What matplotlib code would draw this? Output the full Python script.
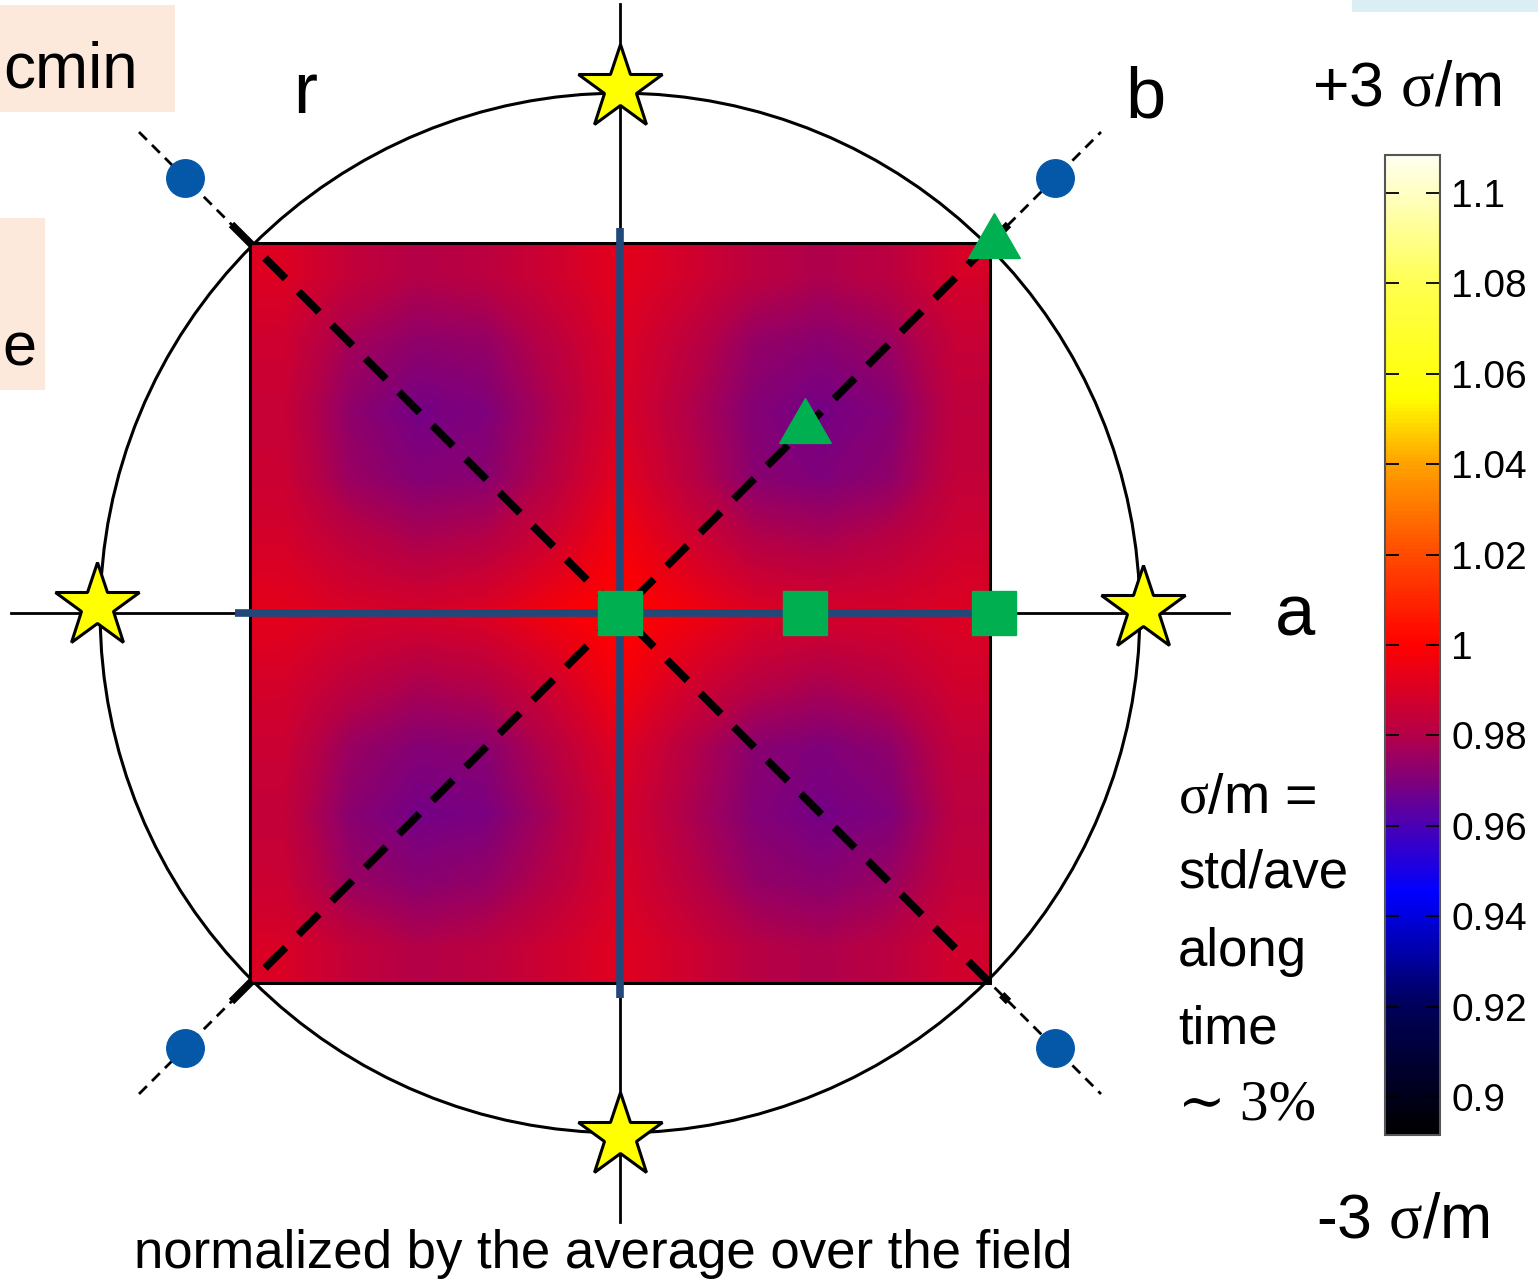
import numpy as np
import matplotlib
matplotlib.use('Agg')
import matplotlib.pyplot as plt
from matplotlib.colors import LinearSegmentedColormap, Normalize
from matplotlib.cm import ScalarMappable
from matplotlib.patches import Rectangle, Circle

plt.rcParams['font.family'] = ['Liberation Sans', 'DejaVu Sans']
plt.rcParams['mathtext.fontset'] = 'custom'
plt.rcParams['mathtext.it'] = 'Liberation Serif'
plt.rcParams['mathtext.rm'] = 'Liberation Serif'

W, H = 1538, 1282

# normalized field (rows top -> bottom, columns left -> right), square spans [-1, 1]
field = np.array([
    [0.991, 0.984, 0.980, 0.982, 0.987, 0.993, 0.988, 0.982, 0.979, 0.982, 0.989],
    [0.987, 0.977, 0.973, 0.974, 0.982, 0.991, 0.983, 0.974, 0.972, 0.975, 0.985],
    [0.985, 0.973, 0.968, 0.970, 0.979, 0.990, 0.980, 0.971, 0.968, 0.971, 0.983],
    [0.986, 0.975, 0.971, 0.972, 0.981, 0.993, 0.982, 0.972, 0.970, 0.973, 0.984],
    [0.989, 0.983, 0.979, 0.981, 0.988, 0.998, 0.989, 0.981, 0.979, 0.982, 0.987],
    [0.993, 0.990, 0.989, 0.991, 0.997, 1.001, 0.997, 0.991, 0.989, 0.989, 0.991],
    [0.989, 0.983, 0.979, 0.981, 0.988, 0.998, 0.989, 0.982, 0.979, 0.982, 0.988],
    [0.986, 0.975, 0.971, 0.972, 0.981, 0.992, 0.981, 0.972, 0.970, 0.973, 0.984],
    [0.984, 0.972, 0.968, 0.969, 0.978, 0.989, 0.979, 0.971, 0.968, 0.970, 0.982],
    [0.986, 0.975, 0.972, 0.974, 0.981, 0.990, 0.982, 0.974, 0.972, 0.975, 0.984],
    [0.990, 0.984, 0.980, 0.982, 0.987, 0.992, 0.987, 0.981, 0.979, 0.982, 0.988],
])

# colour scale (+/- 3 sigma/m around 1)
vmin, vmax = 0.8916, 1.1084
cmap_vals = [0.8916, 0.92, 0.945, 0.96, 0.97, 0.98, 1.0, 1.02, 1.04, 1.055, 1.08, 1.1084]
cmap_cols = ['#000000', '#00005a', '#0000ff', '#4a00b4', '#80007a', '#b40048',
             '#ff0000', '#ff4a00', '#ffa000', '#ffff00', '#ffff50', '#fffff0']
cb_ticks = [0.9, 0.92, 0.94, 0.96, 0.98, 1.0, 1.02, 1.04, 1.06, 1.08, 1.1]
cb_labels = ['0.9', '0.92', '0.94', '0.96', '0.98', '1', '1.02', '1.04', '1.06', '1.08', '1.1']

# probe positions
star_x = [0, -1.413, 1.413, 0]
star_y = [1.418, 0.02, 0.01, -1.413]
dot_x = [-1.176, 1.176, -1.176, 1.176]
dot_y = [1.176, 1.176, -1.176, -1.176]
sq_x = [0.0, 0.5, 1.01]
sq_y = [0.0, 0.0, 0.0]
tri_x = [0.5, 1.01]
tri_y = [0.5, 1.0]

circle_r = 1.405
axis_len = 1.645
diag_out = 1.3
diag_in = 1.05
cross_len = 1.04

cmap = LinearSegmentedColormap.from_list(
    'sigm', [((v - vmin) / (vmax - vmin), c) for v, c in zip(cmap_vals, cmap_cols)])

fig = plt.figure(figsize=(W / 100, H / 100), dpi=100)
ax = fig.add_axes([0, 0, 1, 1])

# reference frame: thin axes, circle, outer diagonals
ax.plot([-axis_len, axis_len], [0, 0], color='k', lw=2, zorder=1)
ax.plot([0, 0], [-axis_len, axis_len], color='k', lw=2, zorder=1)
ax.add_patch(Circle((0, 0), circle_r, fill=False, ec='k', lw=2.2, zorder=1))
for s in (1, -1):
    ax.plot([-diag_out, diag_out], [-s * diag_out, s * diag_out], color='k', lw=2,
            ls=(0, (4, 2.6)), zorder=1)

ax.imshow(field, extent=(-1, 1, -1, 1), cmap=cmap, vmin=vmin, vmax=vmax,
          interpolation='bilinear', zorder=2)
ax.add_patch(Rectangle((-1, -1), 2, 2, fill=False, ec='k', lw=2.2, zorder=3))

# measurement lines
ax.plot([-cross_len, 1.0], [0, 0], color='#22487a', lw=5.5, solid_capstyle='butt', zorder=4)
ax.plot([0, 0], [-cross_len, cross_len], color='#22487a', lw=5.5, solid_capstyle='butt', zorder=4)
for s in (1, -1):
    ax.plot([-diag_in, diag_in], [-s * diag_in, s * diag_in], color='k', lw=5.5,
            ls=(0, (3.8, 2.4)), solid_capstyle='butt', zorder=5)

ax.plot(star_x, star_y, ls='none', marker='*', ms=64, mfc='#ffff00', mec='k', mew=2.2, zorder=6)
ax.plot(dot_x, dot_y, ls='none', marker='o', ms=27, mfc='#0558a8', mec='#0558a8', zorder=6)
ax.plot(sq_x, sq_y, ls='none', marker='s', ms=32, mfc='#00b050', mec='#00b050', zorder=7)
ax.plot(tri_x, tri_y, ls='none', marker=(3, 0, 0), ms=43, mfc='#00b050', mec='#00b050', zorder=7)

ax.set_aspect('auto')
ax.set_xlim(-620 / 370, 918 / 370)
ax.set_ylim(-669 / 370, 613 / 370)
ax.axis('off')

# colour bar
cax = fig.add_axes([1385 / W, 1 - 1135 / H, 55 / W, 980 / H])
cb = fig.colorbar(ScalarMappable(norm=Normalize(vmin, vmax), cmap=cmap), cax=cax)
cb.set_ticks(cb_ticks)
cb.set_ticklabels(cb_labels)
cax.tick_params(direction='in', length=10, width=1.3, left=True, right=True,
                labelsize=28, pad=8)
cb.outline.set_edgecolor('#555555')
cb.outline.set_linewidth(1.5)


def put(x, y, s, size, **kw):
    fig.text(x / W, 1 - y / H, s, fontsize=size, va='baseline', **kw)


# side boxes
fig.patches.append(Rectangle((0, 1 - 112 / H), 175 / W, 107 / H, transform=fig.transFigure,
                             fc='#fce9dc', ec='none', zorder=0))
fig.patches.append(Rectangle((0, 1 - 390 / H), 45 / W, 172 / H, transform=fig.transFigure,
                             fc='#fce9dc', ec='none', zorder=0))
fig.patches.append(Rectangle((1352 / W, 1 - 12 / H), 186 / W, 12 / H, transform=fig.transFigure,
                             fc='#dbeef4', ec='none', zorder=0))
put(3, 88, 'cmin', 46)
put(2, 366, 'e', 44)

put(293, 113, 'r', 52)
put(1125, 117, 'b', 52)
put(1275, 636, 'a', 52)

put(1312, 105, r'+3 $\sigma$/m', 45)
put(1316, 1237, r'-3 $\sigma$/m', 45)
put(1178, 813, r'$\sigma$/m =', 40)
put(1178, 888, 'std/ave', 38)
put(1178, 966, 'along', 38)
put(1178, 1043, 'time', 38)
put(1178, 1120, '\u223c 3%', 41, family=['Liberation Serif', 'DejaVu Serif'])
put(603, 1268, 'normalized by the average over the field', 38, ha='center')

fig.savefig('out.png', dpi=100)
